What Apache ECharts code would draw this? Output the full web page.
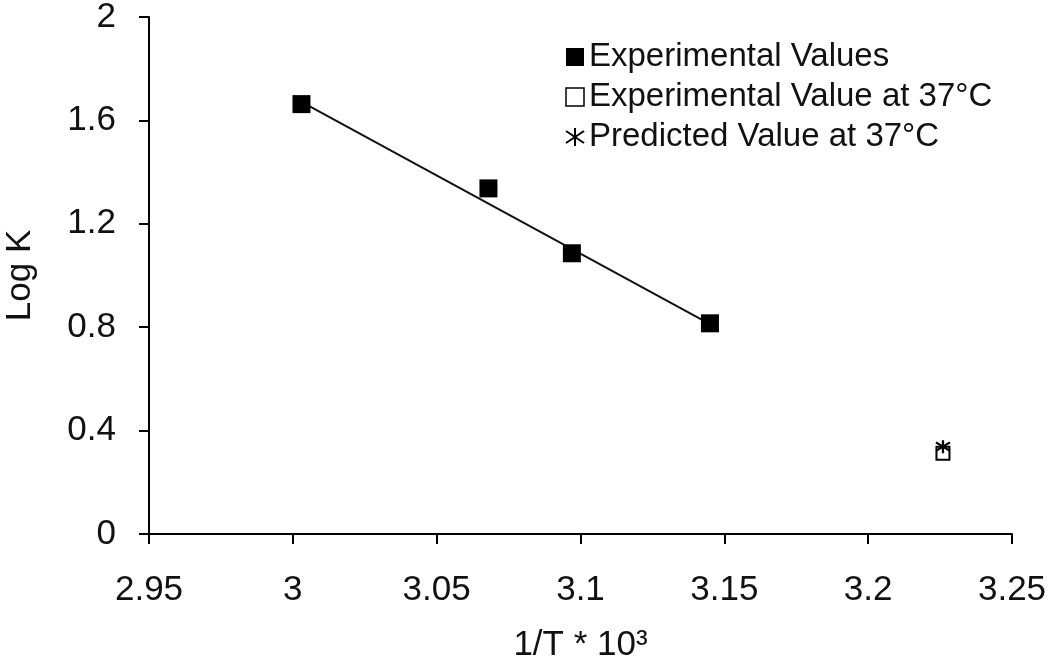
<!DOCTYPE html>
<html>
<head>
<meta charset="utf-8">
<script src="https://cdn.jsdelivr.net/npm/echarts@6/dist/echarts.min.js"></script>
<style>html,body{margin:0;padding:0;background:#fff}#c{width:1050px;height:657px}</style>
</head>
<body>
<div id="c"></div>
<script>
// ---- data ----
const seriesNames = ['Experimental Values', 'Experimental Value at 37°C', 'Predicted Value at 37°C'];
const expX = [3.003, 3.068, 3.097, 3.145];
const expY = [1.663, 1.337, 1.086, 0.815];
const exp37X = [3.226];
const exp37Y = [0.312];
const pred37X = [3.226];
const pred37Y = [0.338];
const fitX = [3.003, 3.145];
const fitY = [1.672, 0.812];
const xTicks = [2.95, 3, 3.05, 3.1, 3.15, 3.2, 3.25];
const yTicks = [0, 0.4, 0.8, 1.2, 1.6, 2];
const xName = '1/T * 10³';
const yName = 'Log K';

const axisFam = "'Liberation Sans', Arial, sans-serif";
const axisSize = 35;

const zip = (xs, ys) => xs.map((x, i) => [x, ys[i]]);
const asterisk = 'path://M6,0 L6,12 M0,2 L12,10 M0,10 L12,2';

const chart = echarts.init(document.getElementById('c'), null, {renderer: 'canvas'});
const axisCommon = {
  axisLine: {show: true, onZero: false, lineStyle: {color: '#000', width: 2}},
  axisTick: {show: true, inside: false, length: 10, lineStyle: {color: '#000', width: 2}},
  splitLine: {show: false},
  axisLabel: {color: '#111', fontFamily: axisFam, fontSize: axisSize, margin: 33},
  nameTextStyle: {color: '#111', fontFamily: axisFam, fontSize: axisSize}
};
chart.setOption({
  animation: false,
  backgroundColor: '#fff',
  grid: {left: 149, right: 38, top: 17, bottom: 123, containLabel: false, outerBoundsMode: 'none'},
  xAxis: Object.assign({}, axisCommon, {
    type: 'value', min: xTicks[0], max: xTicks[xTicks.length - 1], interval: 0.05,
    name: xName, nameLocation: 'middle', nameGap: 94,
    axisLabel: Object.assign({}, axisCommon.axisLabel, {
      margin: 39,
      formatter: v => String(parseFloat(v.toFixed(2))),
      showMinLabel: true, showMaxLabel: true
    })
  }),
  yAxis: Object.assign({}, axisCommon, {
    type: 'value', min: yTicks[0], max: yTicks[yTicks.length - 1], interval: 0.4,
    name: yName, nameLocation: 'middle', nameGap: 111, nameRotate: 90,
    axisLabel: Object.assign({}, axisCommon.axisLabel, {
      formatter: v => String(parseFloat(v.toFixed(1)))
    })
  }),
  legend: {
    orient: 'vertical', left: 565, top: 37, padding: 0, itemGap: 0,
    itemWidth: 18, itemHeight: 18,
    textStyle: {color: '#111', fontFamily: "'Liberation Sans', Arial, sans-serif", fontSize: 33, lineHeight: 40},
    data: [
      {name: seriesNames[0], icon: 'rect', itemStyle: {color: '#000'}},
      {name: seriesNames[1], icon: 'rect', itemStyle: {color: '#fff', borderColor: '#000', borderWidth: 1.5}},
      {name: seriesNames[2], icon: asterisk, itemStyle: {color: 'rgba(0,0,0,0)', borderColor: '#000', borderWidth: 2}}
    ]
  },
  series: [
    {
      type: 'line', name: 'fit', data: zip(fitX, fitY), symbol: 'none',
      lineStyle: {color: '#111', width: 2}, z: 1, silent: true
    },
    {
      type: 'scatter', name: seriesNames[0], data: zip(expX, expY),
      symbol: 'rect', symbolSize: 18, itemStyle: {color: '#000', opacity: 1}, z: 3
    },
    {
      type: 'scatter', name: seriesNames[1], data: zip(exp37X, exp37Y),
      symbol: 'rect', symbolSize: 13, itemStyle: {color: '#fff', borderColor: '#000', borderWidth: 2, opacity: 1}, z: 3
    },
    {
      type: 'scatter', name: seriesNames[2], data: zip(pred37X, pred37Y),
      symbol: asterisk, symbolSize: [14, 13], itemStyle: {color: 'rgba(0,0,0,0)', borderColor: '#000', borderWidth: 2.2, opacity: 1}, z: 4
    }
  ]
});
</script>
</body>
</html>
